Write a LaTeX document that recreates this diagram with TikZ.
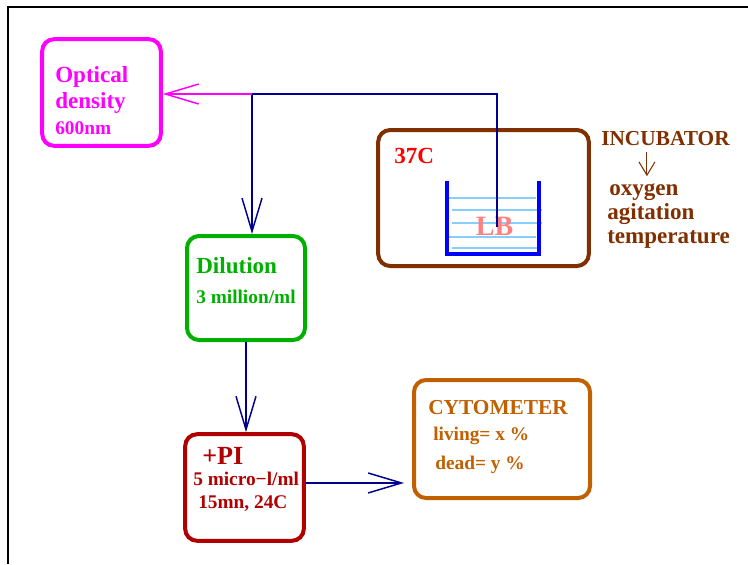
\documentclass[tikz,border=0pt]{standalone}
\usepackage{fontspec}
\setmainfont{Liberation Serif}
\usetikzlibrary{arrows.meta, positioning}

\definecolor{odmag}{HTML}{FF00FF}
\definecolor{flowblue}{HTML}{000090}
\definecolor{dilgreen}{HTML}{00B000}
\definecolor{pired}{HTML}{B00000}
\definecolor{incbrown}{HTML}{803000}
\definecolor{cytbrown}{HTML}{C06000}
\definecolor{lbpink}{HTML}{FF8080}
\definecolor{waterblue}{HTML}{87CEFF}

\begin{document}
\begin{tikzpicture}[x=0.75pt, y=-0.75pt,
  stage/.style={draw, rounded corners=9pt, line width=3pt, inner sep=0pt},
  txt/.style={anchor=base west, inner sep=0pt, font=\fontsize{17.3}{20}\selectfont\bfseries},
  small/.style={txt, font=\fontsize{14.5}{17}\selectfont\bfseries},
  flow/.style={-{Straight Barb[length=25pt, width=15pt]}, line width=1.1pt, flowblue}
]
\useasboundingbox (0,0) rectangle (748,564);

% frame
\draw[line width=0.9pt] (748,7) -- (8,7) -- (8,564);

% Boxes
\node[stage, odmag, minimum width=89pt, minimum height=80pt] (od) at (101.5,92.5) {};
\node[stage, incbrown, minimum width=158pt, minimum height=102pt] (inc) at (483.5,198) {};
\node[stage, dilgreen, minimum width=88.5pt, minimum height=78pt] (dil) at (246,288) {};
\node[stage, pired, minimum width=89pt, minimum height=80pt] (pi) at (244.5,487.5) {};
\node[stage, cytbrown, minimum width=132pt, minimum height=88.5pt] (cyt) at (502,439) {};

% Optical density
\node[txt, odmag] (odA) at (55,82) {Optical};
\node[txt, odmag] (odB) at (55,108) {density};
\node[small, odmag] (odC) at (55,134) {600nm};

% Incubator and beaker
\node[txt, red] (temp) at (394,163) {37C};
\foreach \y/\xa/\xb in {198/449/536, 210/452/542, 223/452/542, 237/449/536, 248/452/537}
  \draw[waterblue, line width=0.8pt] (\xa,\y) -- (\xb,\y);
\draw[blue, line width=2.3pt] (447,181) -- (447,254) -- (539,254) -- (539,181);
\node[anchor=base, inner sep=0pt, lbpink, font=\fontsize{21}{24}\selectfont\bfseries] (lb) at (494.5,235) {LB};

\node[txt, incbrown, font=\fontsize{16}{19}\selectfont\bfseries] (incT) at (601,145) {INCUBATOR};
\node[txt, incbrown] (oxy) at (609,195) {oxygen};
\node[txt, incbrown] (agi) at (607,219) {agitation};
\node[txt, incbrown] (tmp) at (607,243) {temperature};
\draw[-{Straight Barb[length=10pt, width=12pt]}, incbrown, line width=0.8pt,
  shorten <=5pt, shorten >=5pt]
  ([xshift=-13.9pt]incT.south) -- ([xshift=-13.9pt]incT.south |- oxy.north);

% Dilution
\node[txt, dilgreen] (dilA) at (196,273) {Dilution};
\node[small, dilgreen] (dilB) at (196,303) {3 million/ml};

% PI
\node[txt, pired, font=\fontsize{19.6}{22}\selectfont\bfseries] (piA) at (202,464) {+PI};
\node[small, pired] (piB) at (193,485) {5 micro−l/ml};
\node[small, pired] (piC) at (198,508) {15mn, 24C};

% Cytometer
\node[txt, cytbrown, font=\fontsize{16}{19}\selectfont\bfseries] (cytA) at (428,414) {CYTOMETER};
\node[small, cytbrown] (cytB) at (433,440) {living= x \%};
\node[small, cytbrown] (cytC) at (435,469) {dead= y \%};

% Flow
\coordinate (dip) at (497,227);
\coordinate (split) at (252,94);
\draw[flow] (dip) |- (split) -- (split |- dil.north);
\draw[flow, odmag] (split) -- (split -| od.east);
\draw[flow] (dil.south) -- (dil.south |- pi.north);
\draw[flow, shorten >=6pt] ([yshift=3.4pt]pi.east) -- ([yshift=3.4pt]pi.east -| cyt.west);
\end{tikzpicture}
\end{document}
